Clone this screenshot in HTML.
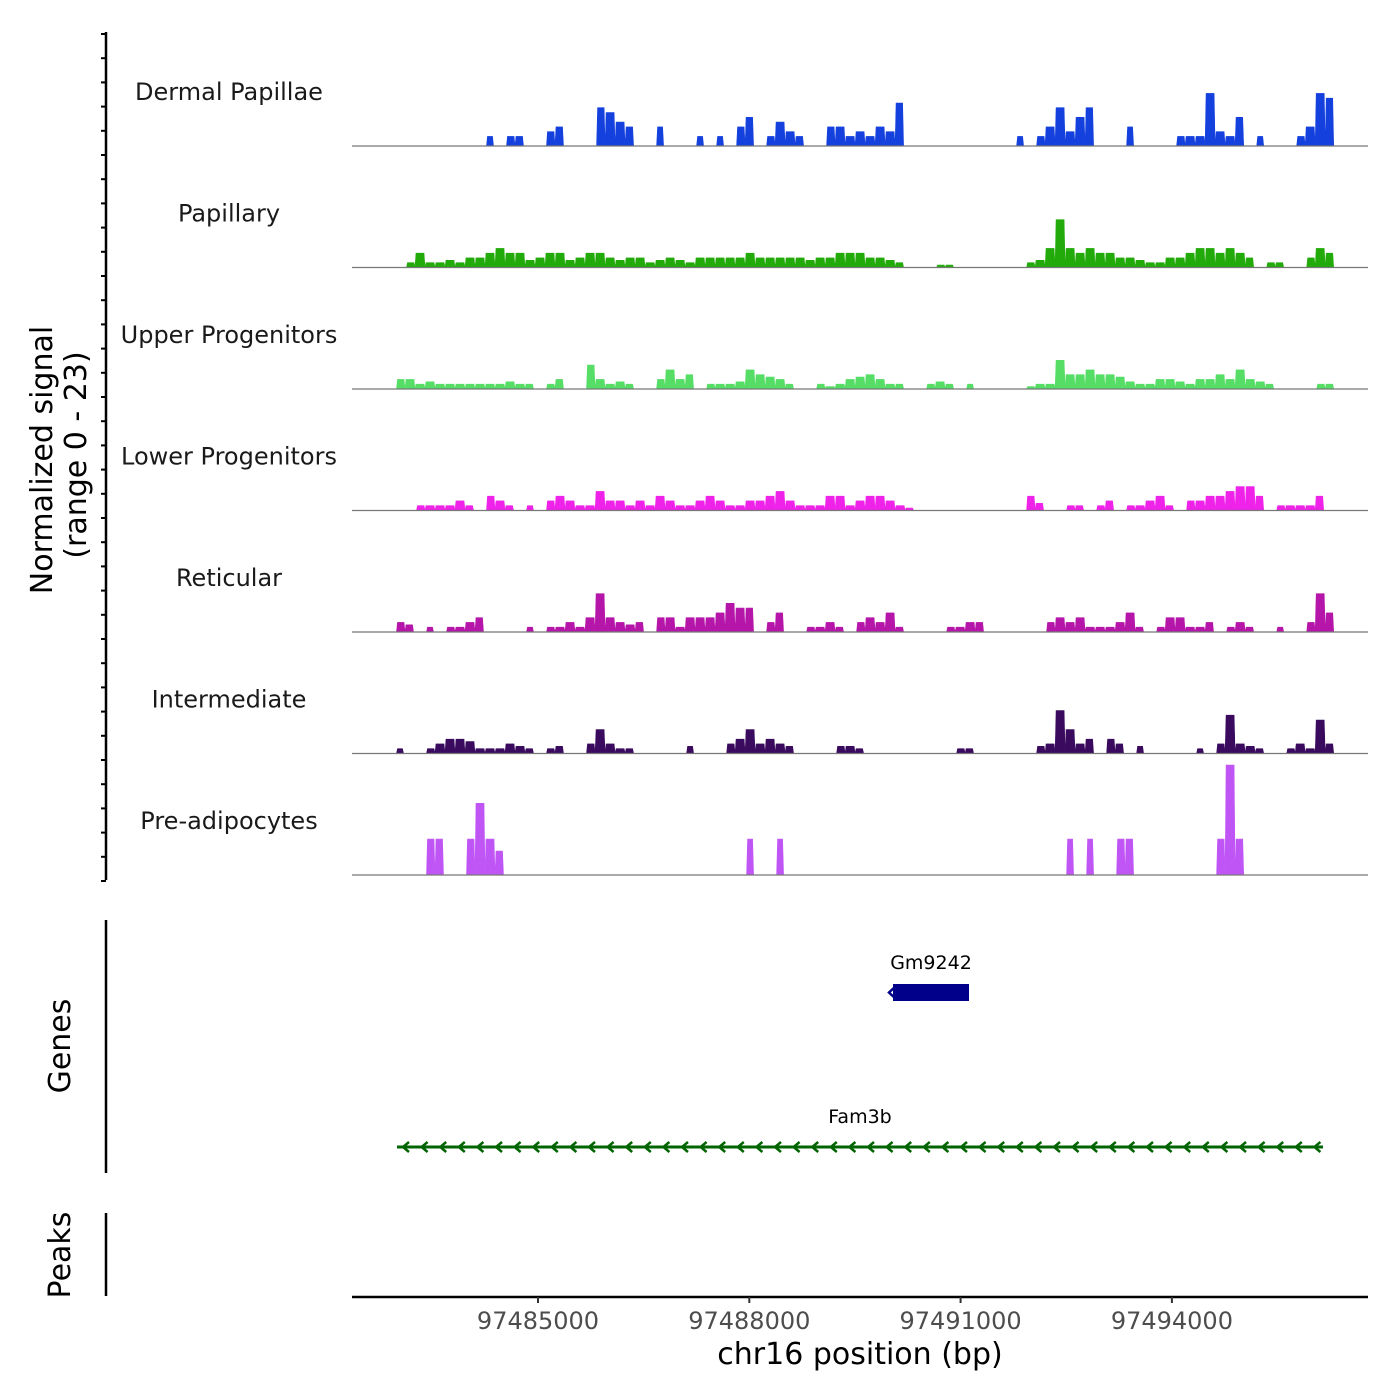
<!DOCTYPE html>
<html><head><meta charset="utf-8"><style>
body{margin:0;background:#fff}
svg{display:block;font-family:"DejaVu Sans","Liberation Sans",sans-serif}
</style></head><body>
<svg id="chart" width="1400" height="1400" viewBox="0 0 1400 1400" xmlns="http://www.w3.org/2000/svg">
<g id="tracks"></g>
<g id="yaxis">
<line x1="106" y1="32" x2="106" y2="880" stroke="#000" stroke-width="2.5"/>
</g>
<text transform="translate(52,460) rotate(-90)" text-anchor="middle" font-size="30" fill="#000">Normalized signal</text>
<text transform="translate(86,455) rotate(-90)" text-anchor="middle" font-size="30" fill="#000">(range 0 - 23)</text>

<g>
<line x1="106" y1="920" x2="106" y2="1173" stroke="#000" stroke-width="2.5"/>
<text transform="translate(70,1046) rotate(-90)" text-anchor="middle" font-size="30">Genes</text>
<text x="931" y="969" text-anchor="middle" font-size="19">Gm9242</text>
<rect x="893" y="984" width="76" height="17" fill="#00008B"/>
<path d="M896,986 L889,992.5 L896,999" stroke="#00008B" stroke-width="2.5" fill="none"/>
<text x="860" y="1123" text-anchor="middle" font-size="19">Fam3b</text>
<g id="fam3b">
<line x1="397" y1="1147" x2="1323" y2="1147" stroke="#006400" stroke-width="3"/>
</g>
</g>

<g>
<line x1="106" y1="1213" x2="106" y2="1296" stroke="#000" stroke-width="2.5"/>
<text transform="translate(70,1255) rotate(-90)" text-anchor="middle" font-size="30">Peaks</text>
</g>

<g id="xaxis">
<line x1="352" y1="1297" x2="1368" y2="1297" stroke="#000" stroke-width="2.5"/>
</g>
<text x="860" y="1364" text-anchor="middle" font-size="30">chr16 position (bp)</text>
</svg>
<script>
const NS = "http://www.w3.org/2000/svg";
const trackNames = ["Dermal Papillae","Papillary","Upper Progenitors","Lower Progenitors","Reticular","Intermediate","Pre-adipocytes"];
const trackColors = ["#1440DD","#22AA0A","#55DD66","#EE22E8","#B515A8","#3A0A5E","#C055F5"];
const binStart = 97482970;
const binSize = 142;
const xTicks = [97485000,97488000,97491000,97494000];
const xTickLabels = ["97485000","97488000","97491000","97494000"];
const dermalPapillae = [0,0,0,0,0,0,0,0,0,2, 0,2,2,0,0,3,4,0,0,0, 8,7,5,4,0,0,4,0,0,0, 2,0,2,0,4,6,0,2,5,3, 2,0,0,4,4,2,3,2,4,3, 9,0,0,0,0,0,0,0,0,0, 0,0,2,0,2,4,8,3,6,8, 0,0,0,4,0,0,0,0,2,2, 2,11,3,2,6,0,2,0,0,0, 2,4,11,10];
const papillary = [0,1,3,1,1,1.5,1,2,2,3, 4,3,3,1.5,2,3,3,1.5,2,3, 3,2,1.5,2,2,1,1.5,2,1.5,1, 2,2,2,2,2,3,2,2,2,2, 2,1.5,2,2,3,3,3,2,2,1.5, 1,0,0,0,0.5,0.5,0,0,0,0, 0,0,0,1,1.5,4,10,4,3,4, 3,3,2,2,1.5,1,1,2,2,3, 4,4,3,4,3,2,0,1,1,0, 0,2,4,3];
const upperProgenitors = [2,2,1,1.5,1,1,1,1,1,1, 1,1.5,1,1,0,1,2,0,0,5, 2,1,1.5,1,0,0,2,4,2,3, 0,1,1,1,1.5,4,3,2.5,2,1, 0,0,1,0.5,1,2,2.5,3,2,1, 1,0,0,1,1.5,1,0,1,0,0, 0,0,0,0.5,1,1,6,3,3,4, 3,3,2.5,1.5,1,1,2,2,1.5,1, 2,2,3,2,4,2,1.5,1,0,0, 0,0,1,1];
const lowerProgenitors = [0,0,1,1,1,1,2,1,0,3, 2,1,0,1,0,2,3,2,1,1, 4,2,2,1,2,1,3,2,1,1, 2,3,2,1,1,2,2,3,4,2, 1,1,1,3,3,1,2,3,3,2, 1,0.5,0,0,0,0,0,0,0,0, 0,0,0,3,1.5,0,0,1,1,0, 1,2,0,1,1,2,3,1,0,2, 2,3,3,4,5,5,3,0,1,1, 1,1,3,0];
const reticular = [2,1.5,0,1,0,1,1,2,3,0, 0,0,0,1,0,1,1,2,1,3, 8,3,2,1.5,2,0,3,3,1,3, 3,3,4,6,5,5,0,2,4,0, 0,1,1,2,1,0,2,3,2,4, 1,0,0,0,0,1,1,2,2,0, 0,0,0,0,0,2,3,2,3,1, 1,1,2,4,1,0,1,3,3,1, 1,2,0,1,2,1,0,0,1,0, 0,2,8,4];
const intermediate = [1,0,0,1,2,3,3,2.5,1,1, 1,2,1.5,1,0,1,1.5,0,0,2, 5,2,1,1,0,0,0,0,0,1.5, 0,0,0,2,3,5,2,3,2,1.5, 0,0,0,0,1.5,1.5,1,0,0,0, 0,0,0,0,0,0,1,1,0,0, 0,0,0,0,1.5,2,9,5,2,3, 0,3,2,0,1.5,0,0,0,0,0, 1,0,2,8,2,1.5,1,0,0,1, 2,1,7,2];
const preAdipocytes = [0,0,0,7.5,7.5,0,0,7.5,15,7.5, 5,0,0,0,0,0,0,0,0,0, 0,0,0,0,0,0,0,0,0,0, 0,0,0,0,0,7.5,0,0,7.5,0, 0,0,0,0,0,0,0,0,0,0, 0,0,0,0,0,0,0,0,0,0, 0,0,0,0,0,0,0,7.5,0,7.5, 0,0,7.5,7.5,0,0,0,0,0,0, 0,0,7.5,23,7.5,0,0,0,0,0, 0,0,0,0];
const trackValues = [dermalPapillae,papillary,upperProgenitors,lowerProgenitors,reticular,intermediate,preAdipocytes];

const bpPerPx = 3000/211.3;
function xScale(bp){ return 538 + (bp-97485000)/bpPerPx; }
const yMax = 23, trackH = 110;
function baseY(i){ return 146 + i*121.5; }
function yScale(v,i){ return baseY(i) - v/yMax*trackH; }

const tracks = document.getElementById('tracks');
trackValues.forEach((vals,ti)=>{
  const g = document.createElementNS(NS,'g');
  
  
  const label = document.createElementNS(NS,'text');
  
  
  label.setAttribute('x', 229); label.setAttribute('y', baseY(ti)-46);
  label.setAttribute('text-anchor','middle'); label.setAttribute('font-size','24'); label.setAttribute('fill','#1a1a1a');
  label.textContent = trackNames[ti];
  g.appendChild(label);
  const b = baseY(ti);
  let d = '';
  vals.forEach((v,i)=>{
    if(v<=0) return;
    const x0 = xScale(binStart + i*binSize) + 1.5;
    const x1 = xScale(binStart + (i+1)*binSize) - 1.5;
    const prev = i>0 ? vals[i-1] : 0, next = i<vals.length-1 ? vals[i+1] : 0;
    const l = prev>0 ? x0-1.5 : x0, r = next>0 ? x1+1.5 : x1;
    const y = yScale(v,ti).toFixed(1);
    d += 'M'+l.toFixed(1)+','+b+' L'+(l+1).toFixed(1)+','+y+' L'+(r-1).toFixed(1)+','+y+' L'+r.toFixed(1)+','+b+' Z ';
  });
  const area = document.createElementNS(NS,'path');
  
  
  area.setAttribute('d', d); area.setAttribute('fill', trackColors[ti]);
  area.setAttribute('stroke', trackColors[ti]); area.setAttribute('stroke-width', '0.6');
  g.appendChild(area);
  const base = document.createElementNS(NS,'line');
  
  
  base.setAttribute('x1',352); base.setAttribute('x2',1368);
  base.setAttribute('y1',b); base.setAttribute('y2',b);
  base.setAttribute('stroke','#777'); base.setAttribute('stroke-width','1.2');
  g.appendChild(base);
  tracks.appendChild(g);
});

const yaxis = document.getElementById('yaxis');
for(let k=0;k<36;k++){
  const y = 34 + k*24.2;
  const t = document.createElementNS(NS,'line');
  
  
  t.setAttribute('x1',101); t.setAttribute('x2',106); t.setAttribute('y1',y); t.setAttribute('y2',y);
  t.setAttribute('stroke','#000'); t.setAttribute('stroke-width','2');
  yaxis.appendChild(t);
}

const fam = document.getElementById('fam3b');
for(let x=403;x<1320;x+=18.6){
  const a = document.createElementNS(NS,'path');
  
  
  a.setAttribute('d','M'+(x+6)+',1142 L'+x+',1147 L'+(x+6)+',1152');
  a.setAttribute('stroke','#006400'); a.setAttribute('stroke-width','2.5'); a.setAttribute('fill','none');
  fam.appendChild(a);
}

const xaxis = document.getElementById('xaxis');
xTicks.forEach((bp,i)=>{
  const x = xScale(bp);
  const t = document.createElementNS(NS,'line');
  
  
  t.setAttribute('x1',x); t.setAttribute('x2',x); t.setAttribute('y1',1297); t.setAttribute('y2',1303);
  t.setAttribute('stroke','#333'); t.setAttribute('stroke-width','2');
  xaxis.appendChild(t);
  const l = document.createElementNS(NS,'text');
  
  
  l.setAttribute('x',x); l.setAttribute('y',1329); l.setAttribute('text-anchor','middle');
  l.setAttribute('font-size','24'); l.setAttribute('fill','#4d4d4d');
  l.textContent = xTickLabels[i];
  xaxis.appendChild(l);
});
</script>
</body></html>
